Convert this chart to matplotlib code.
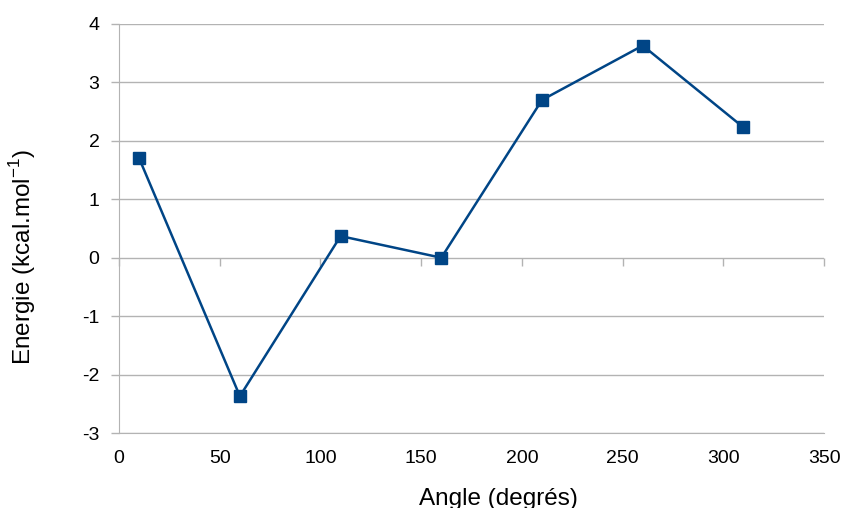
import matplotlib.pyplot as plt

plt.rcParams['font.family'] = ['Liberation Sans', 'DejaVu Sans']
plt.rcParams['axes.unicode_minus'] = False

angles = [10, 60, 110, 160, 210, 260, 310]
energie = [1.70, -2.37, 0.37, 0.0, 2.70, 3.63, 2.23]

grey = '#b3b3b3'

fig = plt.figure(figsize=(8.43, 5.08), dpi=100)
ax = fig.add_axes([0.1412, 0.1476, 0.9775 - 0.1412, 0.9528 - 0.1476])

ax.plot(angles, energie, color='#004586', lw=1.8, marker='s', markersize=8, zorder=3)

ax.set_xlim(0, 350)
ax.set_ylim(-3, 4)
ax.set_xticks(range(0, 351, 50))
ax.set_yticks(range(-3, 5))

ax.grid(axis='y', color=grey, lw=1)
for s in ['top', 'right']:
    ax.spines[s].set_visible(False)
ax.spines['left'].set_color(grey)
ax.spines['bottom'].set_color(grey)
ax.tick_params(axis='y', colors=grey, length=6, width=1, labelcolor='black', labelsize=14, pad=8)
ax.tick_params(axis='x', length=0, labelcolor='black', labelsize=14, pad=12)

# tick marks on the zero line
sec = ax.secondary_xaxis(3 / 7)
sec.set_xticks(range(0, 351, 50))
sec.xaxis.set_ticks_position('bottom')
sec.tick_params(axis='x', colors=grey, length=6, width=1, labelbottom=False, labeltop=False)
sec.spines['bottom'].set_visible(False)
sec.spines['top'].set_visible(False)

ax.set_xlabel('Angle (degrés)', fontsize=17.5)
ax.set_ylabel(r'Energie (kcal.mol$^{\mathregular{-1}}$)', fontsize=17.5)
ax.xaxis.set_label_coords(0.538, -0.135)
ax.yaxis.set_label_coords(-0.115, 0.43)

fig.savefig('out.png', dpi=100)
